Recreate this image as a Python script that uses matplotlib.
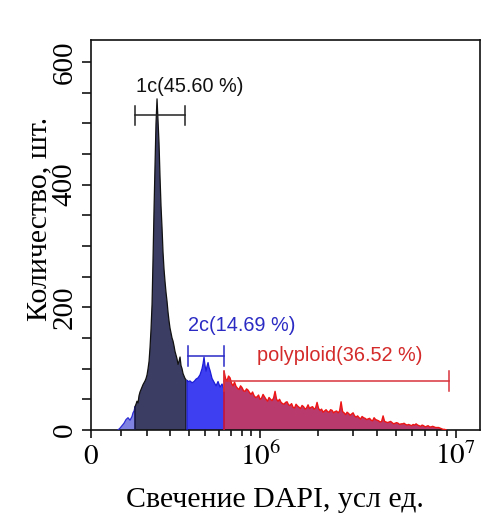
import numpy as np
import matplotlib
matplotlib.use('Agg')
import matplotlib.pyplot as plt
from matplotlib.ticker import FixedLocator, NullFormatter

plt.rcParams['mathtext.fontset'] = 'stix'
SERIF = 'Liberation Serif'
SANS = 'Liberation Sans'

# ---------------- data (DAPI in units of 1e5, counts) ----------------
left_dapi_e5 = [0.908, 0.977, 1.047, 1.118, 1.190, 1.262, 1.335, 1.408, 1.445, 1.483, 1.520]
left_counts = [0, 3, 7, 11, 17, 20, 16, 22, 28, 31, 38]

c1_dapi_e5 = [1.520, 1.557, 1.595, 1.633, 1.672, 1.710, 1.749, 1.788, 1.827, 1.867,
              1.907, 1.947, 1.988, 2.028, 2.069, 2.110, 2.151, 2.193, 2.235, 2.277,
              2.319, 2.361, 2.405, 2.448, 2.492, 2.537, 2.581, 2.626, 2.671, 2.717,
              2.763, 2.810, 2.856, 2.904, 2.951, 2.999, 3.048, 3.096, 3.145, 3.195,
              3.245, 3.296, 3.346, 3.398, 3.450, 3.502, 3.555, 3.608, 3.662, 3.716,
              3.771, 3.826]
c1_counts = [38, 42, 47, 44, 56, 62, 66, 70, 74, 77,
             80, 84, 90, 100, 112, 135, 165, 205, 280, 360,
             432, 500, 540, 505, 468, 412, 365, 330, 290, 262,
             242, 224, 210, 192, 178, 166, 158, 150, 145, 137,
             128, 122, 116, 107, 112, 119, 105, 100, 92, 88,
             84, 82]

c2_dapi_e5 = [3.883, 3.939, 4.053, 4.170, 4.289, 4.410, 4.533, 4.660, 4.788, 4.853,
              4.919, 4.986, 5.053, 5.121, 5.190, 5.260, 5.330, 5.472, 5.617, 5.766,
              5.917, 6.072, 6.230, 6.392]
c2_counts = [81, 79, 80, 77, 79, 83, 85, 90, 100, 108,
             119, 105, 96, 104, 110, 102, 97, 84, 78, 72,
             79, 70, 75, 66]

poly_dapi_e5 = [6.392, 6.516, 6.641, 6.770, 6.898, 7.030, 7.163, 7.300, 7.438, 7.580,
                7.721, 7.867, 8.014, 8.165, 8.317, 8.473, 8.630, 8.791, 8.953, 9.120,
                9.288, 9.461, 9.634, 9.813, 9.992, 10.177, 10.362, 10.553, 10.745, 10.943,
                11.141, 11.346, 11.551, 11.763, 11.975, 12.194, 12.414, 12.640, 12.867, 13.102,
                13.337, 13.580, 13.823, 14.074, 14.326, 14.586, 14.847, 15.116, 15.386, 15.664,
                15.943, 16.232, 16.521, 16.820, 17.119, 17.428, 17.737, 18.057, 18.378, 18.709,
                19.041, 19.384, 19.727, 20.082, 20.438, 20.806, 21.174, 21.554, 21.935, 22.330,
                22.724, 23.132, 23.541, 23.963, 24.386, 24.824, 25.262, 25.715, 26.168, 26.637,
                27.107, 27.593, 28.079, 28.582, 29.085, 29.606, 30.127, 30.667, 31.207, 31.765,
                32.324, 32.902, 33.481, 34.080, 34.680, 35.300, 35.921, 36.563, 37.206, 37.871,
                38.536, 39.225, 39.914, 40.627, 41.341, 42.080, 42.820, 43.585, 44.350, 45.142,
                45.935, 46.755, 47.576, 48.426, 49.276, 50.156, 51.037, 51.948, 52.860, 53.803,
                54.747, 55.725, 56.703, 57.715, 58.728, 59.776, 60.825, 61.910, 62.996, 64.120,
                65.245, 66.410, 67.575, 68.781, 69.987, 71.236, 72.486, 73.779, 75.072, 76.412,
                77.752, 79.140, 80.527, 81.963, 83.400, 84.888, 86.377, 87.918, 89.459]
poly_counts = [96, 84, 80, 88, 85, 76, 72, 78, 71, 68,
               66, 72, 69, 64, 63, 67, 65, 61, 58, 62,
               56, 53, 54, 57, 50, 52, 58, 54, 50, 47,
               53, 50, 48, 52, 63, 50, 47, 50, 45, 43,
               42, 45, 46, 41, 40, 43, 37, 36, 42, 39,
               37, 35, 40, 38, 34, 36, 41, 35, 37, 38,
               34, 36, 45, 35, 32, 34, 29, 31, 33, 30,
               29, 33, 32, 28, 30, 31, 28, 31, 46, 30,
               28, 25, 29, 27, 24, 26, 28, 23, 21, 23,
               20, 18, 22, 20, 19, 17, 18, 19, 16, 15,
               20, 17, 16, 15, 13, 14, 23, 14, 13, 12,
               13, 14, 12, 10, 11, 12, 11, 9, 10, 10,
               11, 9, 8, 9, 8, 7, 9, 8, 10, 8,
               7, 6, 8, 7, 5, 6, 7, 5, 5, 6,
               5, 4, 4, 4, 3, 2, 1, 1, 0]

# gates: (start, end) in units of 1e5, level in counts
gate_names = ['1c(45.60 %)', '2c(14.69 %)', 'polyploid(36.52 %)']
gate_start_e5 = [1.52, 3.94, 6.39]
gate_end_e5 = [3.77, 6.39, 92.65]
gate_level = [513, 121, 80]

x_major = [0, 1e6, 1e7]
x_major_labels = ['$0$', '$10^6$', '$10^7$']
y_major = [0, 200, 400, 600]
y_major_labels = ['0', '200', '400', '600']

# ---------------- figure ----------------
fig = plt.figure(figsize=(4.84, 5.21), dpi=100)
ax = fig.add_axes([0.188, 0.1747, 0.804, 0.7486])
ax.set_xscale('asinh', linear_width=2.83e5)
ax.set_xlim(0, 1.331e7)
ax.set_ylim(0, 636)


def region(xs_e5, ys, face, edge, lw=0.9):
    x = np.array(xs_e5) * 1e5
    y = np.array(ys, dtype=float)
    ax.fill_between(x, 0, y, facecolor=face, edgecolor='none', lw=0, zorder=2)
    xx = np.concatenate([[x[0]], x, [x[-1]]])
    yy = np.concatenate([[0], y, [0]])
    ax.plot(xx, yy, color=edge, lw=lw, zorder=3)


region(left_dapi_e5, left_counts, '#8082e2', '#2c2cd4')
region(c1_dapi_e5, c1_counts, '#3b3d63', '#111111')
region(c2_dapi_e5, c2_counts, '#3f3ff2', '#1c1cd6')
region(poly_dapi_e5, poly_counts, '#b93a6c', '#ee1515', lw=1.0)

gate_colors = ['#222222', '#2a2ac8', '#d8333a']
cap = 16
for s, e, lv, col in zip(gate_start_e5, gate_end_e5, gate_level, gate_colors):
    ax.plot([s * 1e5, e * 1e5], [lv, lv], color=col, lw=1.1, zorder=4)
    ax.plot([s * 1e5, s * 1e5], [lv - cap, lv + cap], color=col, lw=1.1, zorder=4)
    ax.plot([e * 1e5, e * 1e5], [lv - cap, lv + cap], color=col, lw=1.1, zorder=4)

label_pos = [(0.2545, 0.8795), (0.388, 0.2667), (0.639, 0.192)]
label_colors = ['#111111', '#2b2bc4', '#d42a2a']
for name, (tx, ty), col in zip(gate_names, label_pos, label_colors):
    ax.text(tx, ty, name, transform=ax.transAxes, ha='center', va='center',
            fontsize=14.3, family=SANS, color=col, zorder=5)

# ticks
ax.xaxis.set_major_locator(FixedLocator(x_major))
ax.set_xticklabels(x_major_labels)
minor_x = [k * 1e5 for k in range(1, 10)] + [k * 1e6 for k in range(2, 10)]
ax.xaxis.set_minor_locator(FixedLocator(minor_x))
ax.xaxis.set_minor_formatter(NullFormatter())

ax.yaxis.set_major_locator(FixedLocator(y_major))
ax.set_yticklabels(y_major_labels, rotation=90, va='center', family=SERIF)
ax.yaxis.set_minor_locator(FixedLocator(list(range(50, 650, 50))))

ax.tick_params(axis='x', which='major', direction='out', length=6, width=1.1,
               labelsize=21, pad=3)
ax.tick_params(axis='x', which='minor', direction='out', length=4.5, width=1.1)
ax.tick_params(axis='y', which='both', direction='out', length=6.5, width=1.1,
               labelsize=21, pad=3)

for sp in ax.spines.values():
    sp.set_linewidth(1.2)
    sp.set_color('#111111')

ax.set_xlabel('Свечение DAPI, усл ед.', fontsize=21.5, family=SERIF)
ax.xaxis.set_label_coords(0.473, -0.146)
ax.set_ylabel('Количество, шт.', fontsize=21.5, family=SERIF)
ax.yaxis.set_label_coords(-0.098, 0.54)

fig.savefig('out.png', dpi=100)
